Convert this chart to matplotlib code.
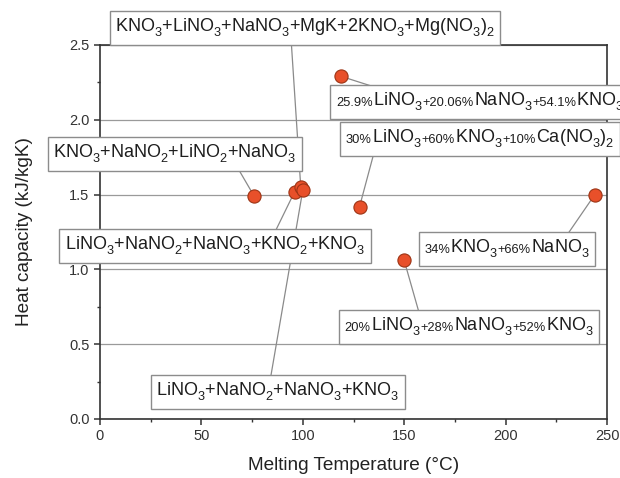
import matplotlib
matplotlib.use("Agg")
import matplotlib.pyplot as plt
from matplotlib.offsetbox import AnnotationBbox, HPacker, TextArea
from matplotlib.patches import ConnectionPatch
from matplotlib.ticker import MultipleLocator

plt.rcParams["font.family"] = ["Liberation Sans", "DejaVu Sans"]
plt.rcParams["mathtext.fontset"] = "custom"
plt.rcParams["mathtext.rm"] = "Liberation Sans"
plt.rcParams["mathtext.it"] = "Liberation Sans:italic"
plt.rcParams["mathtext.bf"] = "Liberation Sans:bold"

# drop the subscripts a bit lower, like the original figure
try:
    import matplotlib._mathtext as _mt
    _mt.FontConstantsBase.sub1 = 0.55
except Exception:
    pass

W, H = 620, 478

# melting temperature (C) and heat capacity (kJ/kgK) of the salt mixtures
melt_temp = [76, 96, 99, 100, 119, 128, 150, 244]
heat_cap = [1.49, 1.52, 1.55, 1.53, 2.29, 1.42, 1.06, 1.50]

# label pieces per point: (text, small?)
labels = [
    [("KNO$_3$+NaNO$_2$+LiNO$_2$+NaNO$_3$", False)],
    [("LiNO$_3$+NaNO$_2$+NaNO$_3$+KNO$_2$+KNO$_3$", False)],
    [("KNO$_3$+LiNO$_3$+NaNO$_3$+MgK+2KNO$_3$+Mg(NO$_3$)$_2$", False)],
    [("LiNO$_3$+NaNO$_2$+NaNO$_3$+KNO$_3$", False)],
    [("25.9%", True), ("LiNO$_3$", False), ("+20.06%", True), ("NaNO$_3$", False),
     ("+54.1%", True), ("KNO$_3$", False)],
    [("30%", True), ("LiNO$_3$", False), ("+60%", True), ("KNO$_3$", False),
     ("+10%", True), ("Ca(NO$_3$)$_2$", False)],
    [("20%", True), ("LiNO$_3$", False), ("+28%", True), ("NaNO$_3$", False),
     ("+52%", True), ("KNO$_3$", False)],
    [("34%", True), ("KNO$_3$", False), ("+66%", True), ("NaNO$_3$", False)],
]

# layout in image pixels (from top-left): box anchor, box alignment, leader end
box_pos = [(175, 154), (215, 246), (305, 28), (278, 392),
           (336, 102), (346, 139), (469, 327), (507, 249)]
box_align = [(0.5, 0.5), (0.5, 0.5), (0.5, 0.5), (0.5, 0.5),
             (0.0, 0.5), (0.0, 0.5), (0.5, 0.5), (0.5, 0.5)]
leader_end = [(236, 165), (273, 236), (291, 38), (270, 381),
              (387, 91), (375, 149), (420, 316), (565, 238)]

BIG = 13
SMALL = 9.3

fig = plt.figure(figsize=(W / 100, H / 100), dpi=100)
ax = fig.add_axes([100 / W, 1 - 419 / H, 507 / W, 374 / H])

ax.set_xlim(0, 250)
ax.set_ylim(0, 2.5)
ax.xaxis.set_major_locator(MultipleLocator(50))
ax.xaxis.set_minor_locator(MultipleLocator(25))
ax.yaxis.set_major_locator(MultipleLocator(0.5))
ax.yaxis.set_minor_locator(MultipleLocator(0.25))
ax.yaxis.set_major_formatter(plt.FormatStrFormatter("%.1f"))
ax.tick_params(which="both", direction="out", colors="#333333", labelsize=10.5,
               top=False, right=False)
ax.tick_params(which="major", length=4, width=1.1)
ax.tick_params(which="minor", length=2.5, width=1.0)
for s in ax.spines.values():
    s.set_color("#333333")
    s.set_linewidth(1.2)
ax.grid(axis="y", color="#9a9a9a", linewidth=0.9)
ax.set_axisbelow(True)

ax.set_xlabel("Melting Temperature (°C)", fontsize=13.7, color="#222222", labelpad=10)
ax.set_ylabel("Heat capacity (kJ/kgK)", fontsize=13.7, color="#222222", labelpad=26)

ax.scatter(melt_temp, heat_cap, s=90, facecolor="#e8502a", edgecolor="#9c3415",
           linewidth=0.8, zorder=5, clip_on=False)

for i in range(len(melt_temp)):
    ex, ey = leader_end[i]
    con = ConnectionPatch(xyA=(melt_temp[i], heat_cap[i]), coordsA=ax.transData,
                          xyB=(ex, H - ey), coordsB="figure pixels",
                          arrowstyle="-", color="#8a8a8a", linewidth=0.9, zorder=2)
    con.set_clip_on(False)
    ax.add_artist(con)

    parts = [TextArea(t, textprops=dict(fontsize=SMALL if small else BIG, color="#1e1e1e"))
             for t, small in labels[i]]
    pack = HPacker(children=parts, align="baseline", pad=0, sep=0)
    bx, by = box_pos[i]
    ab = AnnotationBbox(pack, (bx, H - by), xycoords="figure pixels",
                        box_alignment=box_align[i], frameon=True, pad=0.4,
                        annotation_clip=False,
                        bboxprops=dict(edgecolor="#8c8c8c", facecolor="white",
                                       linewidth=1.0, boxstyle="square,pad=0.4"))
    fig.add_artist(ab)

fig.savefig("out.png", dpi=100, facecolor="white")
